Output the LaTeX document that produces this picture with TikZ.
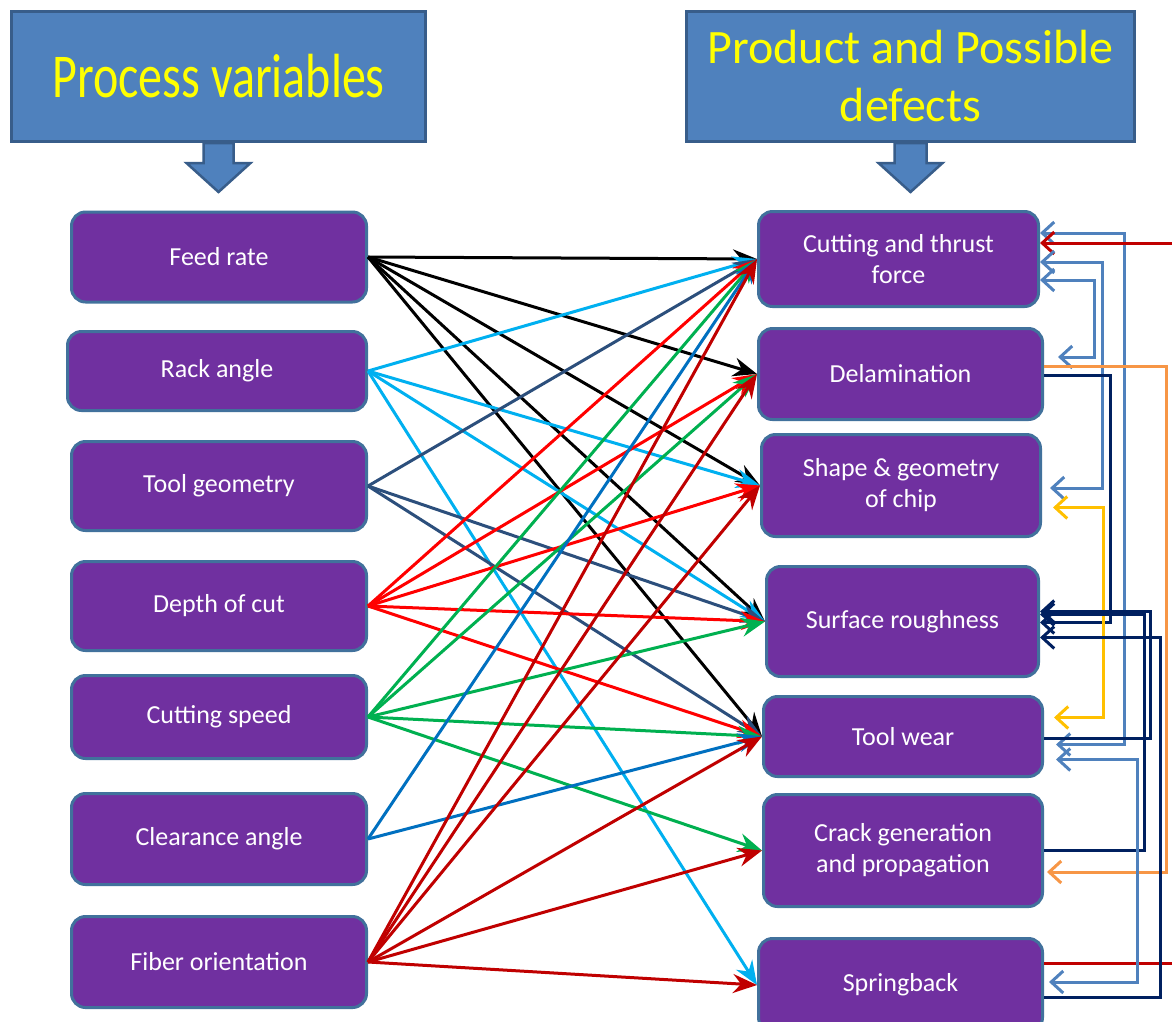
\documentclass[tikz,border=0pt]{standalone}
\usepackage{fontspec}
\setmainfont{Carlito}
\usepackage{graphicx}
\usetikzlibrary{arrows.meta}
\definecolor{boxfill}{HTML}{7030A0}
\definecolor{boxedge}{HTML}{41719C}
\definecolor{headfill}{HTML}{4F81BD}
\definecolor{headedge}{HTML}{385D8A}
\definecolor{headtext}{HTML}{FFFF00}
\definecolor{skyc}{HTML}{00B0F0}
\definecolor{geomc}{HTML}{2C4F7C}
\definecolor{redc}{HTML}{FF0000}
\definecolor{greenc}{HTML}{00B050}
\definecolor{clearc}{HTML}{0070C0}
\definecolor{fiberc}{HTML}{C00000}
\definecolor{steelc}{HTML}{4F81BD}
\definecolor{navyc}{HTML}{002060}
\definecolor{orangec}{HTML}{F79646}
\definecolor{goldc}{HTML}{FFC000}

\tikzset{
  varbox/.style={draw=boxedge, fill=boxfill, line width=3pt, rounded corners=14pt,
    text=white, align=center, font=\fontsize{26}{31}\selectfont},
  headbox/.style={draw=headedge, fill=headfill, line width=3pt, text=headtext,
    align=center, font=\fontsize{48}{58}\selectfont},
  blockarrow/.style={draw=headedge, fill=headfill, line width=2.5pt, line join=miter},
  link/.style={line width=3pt, -{Stealth[length=24pt,width=19pt,inset=8pt]}},
  back/.style={line width=3pt},
  oneway/.style={-{Straight Barb[length=12pt,width=22pt]}},
  twoway/.style={{Straight Barb[length=12pt,width=22pt]}-{Straight Barb[length=12pt,width=22pt]}}
}

\begin{document}
\begin{tikzpicture}[x=1pt, y=-1pt]
  \path[fill=white, use as bounding box] (0,0) rectangle (1172,1021);

  % headers
  \node[headbox, minimum width=414pt, minimum height=130pt] (pv) at (218.5,76.5)
    {\scalebox{1}[1.3]{Process variables}};
  \node[headbox, minimum width=448pt, minimum height=130pt] (pd) at (910.5,76.5)
    {Product and Possible\\defects};
  \draw[blockarrow] ([xshift=-15pt]pv.south) -- ++(0,20) -- ++(-17,0) -- ++(32,29)
    -- ++(32,-29) -- ++(-17,0) -- ++(0,-20) -- cycle;
  \draw[blockarrow] ([xshift=-16pt]pd.south) -- ++(0,20) -- ++(-16,0) -- ++(32,29)
    -- ++(32,-29) -- ++(-16,0) -- ++(0,-20) -- cycle;

  % process variables
  \node[varbox, minimum width=295pt, minimum height=90pt] (feed)  at (219,257) {Feed rate};
  \node[varbox, minimum width=299pt, minimum height=79pt] (rack)  at (217,371) {Rack angle};
  \node[varbox, minimum width=295pt, minimum height=89pt] (geom)  at (219,486) {Tool geometry};
  \node[varbox, minimum width=295pt, minimum height=89pt] (depth) at (219,606) {Depth of cut};
  \node[varbox, minimum width=295pt, minimum height=83pt] (speed) at (219,717) {Cutting speed};
  \node[varbox, minimum width=295pt, minimum height=91pt] (clear) at (219,839) {Clearance angle};
  \node[varbox, minimum width=295pt, minimum height=91pt] (fiber) at (219,962) {Fiber orientation};

  % products and defects
  \node[varbox, minimum width=280pt, minimum height=95pt]  (force)  at (898.5,259) {Cutting and thrust\\force};
  \node[varbox, minimum width=284pt, minimum height=91pt]  (delam)  at (900.5,374) {Delamination};
  \node[varbox, minimum width=279pt, minimum height=102pt] (chip)   at (901,485.5) {Shape \& geometry\\of chip};
  \node[varbox, minimum width=272pt, minimum height=110pt] (rough)  at (902.5,621.5) {Surface roughness};
  \node[varbox, minimum width=279pt, minimum height=80pt]  (wear)   at (903,736.5) {Tool wear};
  \node[varbox, minimum width=279pt, minimum height=112pt] (crack)  at (903,850.5) {Crack generation\\and propagation};
  \node[varbox, minimum width=284pt, minimum height=93pt]  (spring) at (900.5,985) {Springback};

  % influences
  \path[link, black] (feed.east) edge (force.west) edge (delam.west) edge (chip.west)
    edge (rough.west) edge (wear.west);
  \path[link, skyc] (rack.east) edge (force.west) edge (chip.west) edge (rough.west)
    edge (spring.west);
  \path[link, geomc] (geom.east) edge (force.west) edge (rough.west) edge (wear.west);
  \path[link, redc] (depth.east) edge (force.west) edge (delam.west) edge (chip.west)
    edge (rough.west) edge (wear.west);
  \path[link, greenc] (speed.east) edge (force.west) edge (delam.west) edge (rough.west)
    edge (wear.west) edge (crack.west);
  \path[link, clearc] (clear.east) edge (force.west) edge (wear.west);
  \path[link, fiberc] (fiber.east) edge (force.west) edge (delam.west) edge (chip.west)
    edge (wear.west) edge (crack.west) edge (spring.west);

  % interactions between defects
  \draw[back, steelc, twoway] ([yshift=26pt]force.east) -- ++(84,0) |- ([xshift=12pt,yshift=-8pt]wear.east);
  \draw[back, fiberc, oneway] ([yshift=22pt]spring.east) -- ++(150,0) |- ([yshift=16pt]force.east);
  \draw[back, steelc, twoway] ([yshift=-3pt]force.east) -- ++(62,0) |- ([xshift=8pt,yshift=-2.5pt]chip.east);
  \draw[back, steelc, twoway] ([yshift=-21pt]force.east) -- ++(54,0) |- ([xshift=14pt,yshift=17pt]delam.east);
  \draw[back, orangec, oneway] ([yshift=8pt]delam.east) -- ++(122,0) |- ([xshift=3pt,yshift=-21.5pt]crack.east);
  \draw[back, navyc, oneway] ([yshift=-1pt]delam.east) -- ++(66,0) |- ([yshift=-1pt]rough.east);
  \draw[back, goldc, twoway] ([xshift=11pt,yshift=-22pt]chip.east) -- ++(50,0) |- ([xshift=10pt,yshift=19pt]wear.east);
  \draw[back, navyc, oneway] ([yshift=-1.5pt]wear.east) -- ++(106,0) |- ([yshift=10pt]rough.east);
  \draw[back, navyc, oneway] (crack.east) -- ++(100,0) |- ([yshift=7pt]rough.east);
  \draw[back, navyc, oneway] ([yshift=-12pt]spring.east) -- ++(116,0) |- ([yshift=-16pt]rough.east);
  \draw[back, steelc, twoway] ([xshift=12pt,yshift=-23pt]wear.east) -- ++(81,0) |- ([xshift=5pt,yshift=3pt]spring.east);
\end{tikzpicture}
\end{document}
